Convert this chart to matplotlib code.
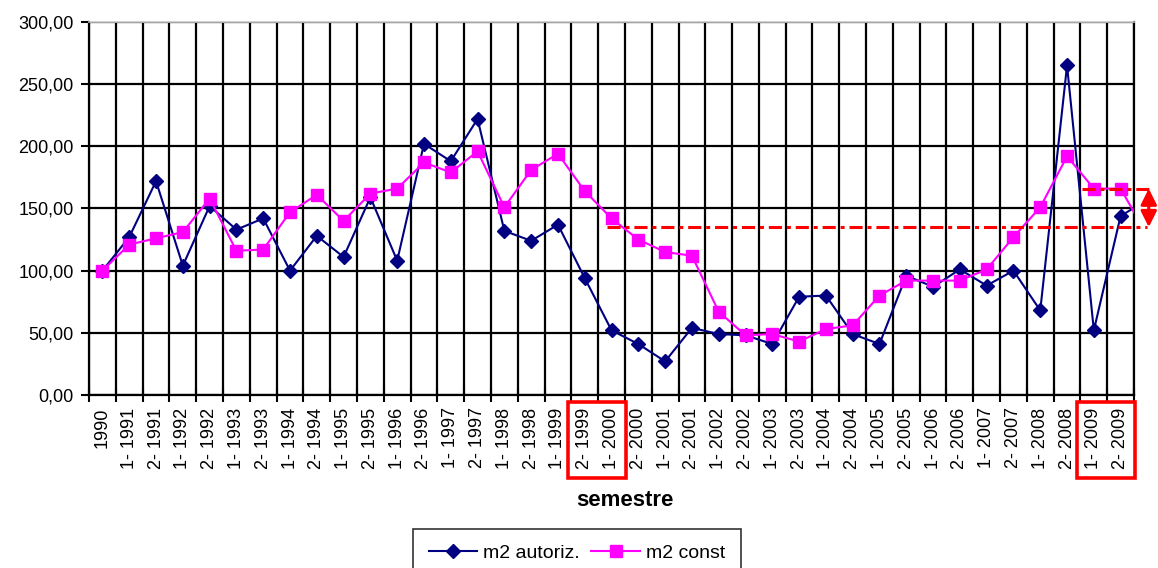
import matplotlib
matplotlib.use("Agg")
import matplotlib.pyplot as plt
import matplotlib.transforms as mtransforms
from matplotlib.patches import Rectangle
import numpy as np

plt.rcParams['font.family'] = ['Liberation Sans', 'DejaVu Sans']

#Semester labels (first point is the 1990 base)
semestri = ["1990"]
for anno in range(1991, 2010):
    semestri.append("1- " + str(anno))
    semestri.append("2- " + str(anno))

#Index values, base 1990 = 100 (last value lies past the axis edge)
m2_autoriz = [100, 127, 172, 104, 152, 133, 142, 100, 128, 111,
              159, 108, 202, 188, 222, 132, 124, 137, 94, 52,
              41, 27, 54, 49, 48, 41, 79, 80, 49, 41,
              96, 87, 101, 88, 100, 68, 265, 52, 144, 157]
m2_const = [100, 121, 126, 131, 158, 116, 117, 147, 161, 140,
            162, 166, 187, 179, 196, 151, 181, 194, 164, 142,
            125, 115, 112, 67, 48, 49, 43, 53, 56, 80,
            92, 92, 92, 101, 127, 151, 192, 166, 166, 128]

y_ticks = [0, 50, 100, 150, 200, 250, 300]
y_labels = ["0,00", "50,00", "100,00", "150,00", "200,00", "250,00", "300,00"]

#Reference levels marked on the right
livello_basso = 135
livello_alto = 166

fig = plt.figure(figsize=(11.58, 5.68), dpi=100)
ax = fig.add_axes([0.0769, 0.3046, 0.9024, 0.6567])

x = np.arange(len(m2_autoriz))
ax.plot(x, m2_autoriz, color='#000080', lw=1.5, marker='D', ms=7,
        mfc='#000080', mec='#000080', label='m2 autoriz.', zorder=4)
ax.plot(x, m2_const, color='#ff00ff', lw=1.5, marker='s', ms=8,
        mfc='#ff00ff', mec='#ff00ff', label='m2 const', zorder=5)

n = len(semestri)
ax.set_xlim(-0.5, n - 0.5)
ax.set_ylim(0, 300)

#Gridlines sit between the categories, labels on the categories
ax.set_xticks(np.arange(n + 1) - 0.5)
ax.set_xticklabels([])
ax.set_xticks(np.arange(n), minor=True)
ax.set_xticklabels(semestri, minor=True, rotation=90, fontsize=13)
ax.tick_params(axis='x', which='major', direction='inout', length=10, width=1.5)
ax.tick_params(axis='x', which='minor', length=0, pad=9)
ax.set_yticks(y_ticks)
ax.set_yticklabels(y_labels, fontsize=13)
ax.tick_params(axis='y', direction='out', length=6, width=1.5, pad=5)
ax.grid(True, which='major', color='black', lw=1.6)
ax.set_axisbelow(True)

for s in ['left', 'bottom', 'right']:
    ax.spines[s].set_color('black')
    ax.spines[s].set_linewidth(1.6)
ax.spines['top'].set_color('#c8c8c8')
ax.spines['top'].set_linewidth(1.2)

#Red markings: levels, gap arrow, boxes around labels
dd = (0, (4.3, 1.6, 1.3, 1.6))
ax.plot([18.83, 39.0], [livello_basso, livello_basso], color='red', lw=2.2,
        ls=dd, clip_on=False, zorder=6)
ax.plot([36.55, 39.2], [livello_alto, livello_alto], color='red', lw=2.2,
        ls=dd, clip_on=False, zorder=6)
ax.annotate('', xy=(39.05, livello_alto), xytext=(39.05, livello_basso),
            arrowprops=dict(arrowstyle='<|-|>', color='red', lw=2.2,
                            mutation_scale=24, shrinkA=0, shrinkB=0),
            annotation_clip=False)

trans = mtransforms.blended_transform_factory(ax.transData, ax.transAxes)
for x0, x1 in [(17.37, 19.54), (36.37, 38.53)]:
    r = Rectangle((x0, -0.2225), x1 - x0, 0.2035, transform=trans,
                  fill=False, edgecolor='red', lw=2.6, clip_on=False, zorder=7)
    ax.add_patch(r)

fig.text(625 / 1158, 1 - 500 / 568, "semestre", ha='center', va='center',
         fontsize=16, fontweight='bold')

leg = fig.legend(loc='upper left', bbox_to_anchor=(413 / 1158, 1 - 529 / 568),
                 ncol=2, fontsize=14, frameon=True, fancybox=False,
                 handlelength=2.5, columnspacing=0.6, handletextpad=0.3,
                 borderpad=0.8, borderaxespad=0)
leg.get_frame().set_edgecolor('black')
leg.get_frame().set_linewidth(1.2)

fig.savefig("out.png", dpi=100)
